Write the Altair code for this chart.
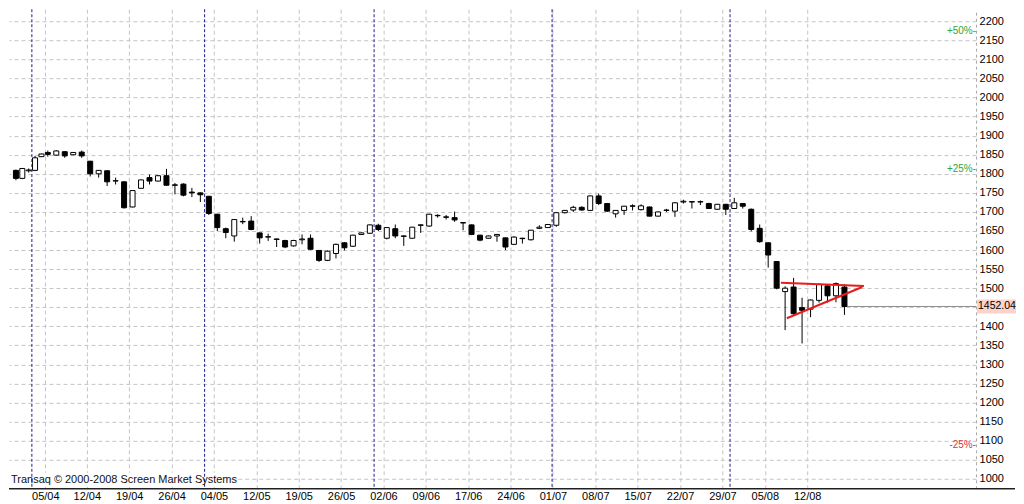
import altair as alt
import pandas as pd

# ---- candle data (trading-day index 0..99) ----
opens = [1809, 1788, 1808, 1809, 1845, 1856, 1849, 1858, 1850, 1857,
         1833, 1800, 1808, 1781, 1779, 1713, 1762, 1790, 1781, 1795,
         1771, 1773, 1752, 1750, 1741, 1694, 1656, 1637, 1674, 1676,
         1645, 1634, 1629, 1625, 1611, 1627, 1631, 1599, 1573, 1591,
         1619, 1610, 1641, 1644, 1665, 1631, 1656, 1637, 1631, 1666,
         1663, 1690, 1687, 1685, 1672, 1666, 1639, 1631, 1637, 1632,
         1615, 1631, 1627, 1657, 1659, 1665, 1698, 1705, 1712, 1704,
         1742, 1722, 1695, 1704, 1716, 1706, 1713, 1689, 1704, 1702,
         1726, 1727, 1726, 1722, 1707, 1720, 1709, 1722, 1707, 1657,
         1619, 1570, 1491, 1503, 1449, 1445, 1468, 1506, 1480, 1503]
highs = [1811, 1815, 1814, 1847, 1853, 1861, 1862, 1859, 1857, 1861,
         1834, 1810, 1809, 1790, 1780, 1757, 1785, 1798, 1796, 1813,
         1776, 1775, 1763, 1751, 1742, 1695, 1659, 1681, 1685, 1689,
         1646, 1643, 1630, 1627, 1627, 1641, 1641, 1600, 1599, 1617,
         1621, 1640, 1646, 1667, 1669, 1660, 1667, 1638, 1661, 1667,
         1695, 1694, 1692, 1701, 1673, 1667, 1640, 1638, 1642, 1633,
         1636, 1632, 1653, 1665, 1668, 1700, 1705, 1716, 1715, 1743,
         1748, 1723, 1705, 1716, 1720, 1720, 1714, 1701, 1708, 1726,
         1732, 1728, 1730, 1724, 1721, 1721, 1737, 1723, 1709, 1667,
         1620, 1571, 1505, 1527, 1475, 1470, 1512, 1510, 1515, 1510]
lows = [1783, 1786, 1803, 1807, 1844, 1845, 1848, 1842, 1849, 1842,
        1793, 1790, 1768, 1772, 1709, 1712, 1761, 1772, 1780, 1769,
        1746, 1741, 1739, 1726, 1692, 1650, 1631, 1622, 1668, 1652,
        1617, 1624, 1608, 1605, 1609, 1615, 1601, 1569, 1571, 1578,
        1599, 1608, 1640, 1643, 1650, 1628, 1631, 1611, 1630, 1645,
        1661, 1685, 1680, 1674, 1652, 1639, 1623, 1630, 1622, 1600,
        1613, 1617, 1625, 1655, 1658, 1661, 1696, 1700, 1703, 1703,
        1718, 1700, 1685, 1692, 1704, 1704, 1688, 1688, 1700, 1687,
        1722, 1709, 1718, 1708, 1706, 1692, 1708, 1709, 1649, 1619,
        1554, 1497, 1390, 1430, 1355, 1424, 1462, 1462, 1463, 1430]
closes = [1788, 1814, 1810, 1842, 1852, 1851, 1860, 1847, 1856, 1847,
          1800, 1809, 1779, 1782, 1711, 1756, 1784, 1781, 1795, 1770,
          1770, 1744, 1750, 1745, 1696, 1659, 1646, 1680, 1675, 1654,
          1632, 1635, 1628, 1608, 1625, 1629, 1602, 1573, 1597, 1615,
          1606, 1639, 1645, 1666, 1654, 1659, 1637, 1636, 1660, 1665,
          1694, 1691, 1686, 1679, 1671, 1641, 1626, 1637, 1641, 1608,
          1634, 1630, 1652, 1660, 1667, 1698, 1704, 1712, 1705, 1742,
          1722, 1702, 1704, 1715, 1715, 1716, 1689, 1700, 1705, 1724,
          1728, 1726, 1727, 1709, 1720, 1707, 1724, 1715, 1654, 1622,
          1587, 1500, 1500, 1433, 1442, 1469, 1510, 1480, 1512, 1452.04]

# ---- axis / annotation data ----
week_labels = ['05/04', '12/04', '19/04', '26/04', '04/05', '12/05', '19/05',
               '26/05', '02/06', '09/06', '17/06', '24/06', '01/07', '08/07',
               '15/07', '22/07', '29/07', '05/08', '12/08']
week_label_idx = [5, 10, 15, 20, 25, 30, 35, 40, 45, 50, 55, 60, 65, 70, 75,
                  80, 85, 90, 95]
month_start_idx = [3, 24, 44, 65, 86]
y_ticks = list(range(1000, 2201, 50))
pct_levels = [2175, 1812.5, 1087.5]
pct_texts = ['+50%-', '+25%-', '-25%-']
pct_colors = ['#35a335', '#35a335', '#d83434']
last_price = 1452.04
last_label = '1452.04'
hidden_tick = 1450
trend_x1 = [91.5, 92.2]
trend_y1 = [1514, 1421]
trend_x2 = [101.3, 101.1]
trend_y2 = [1506, 1503]
copyright_text = 'Transaq \u00a9 2000-2008 Screen Market Systems'

FONT = 'Liberation Sans'
W, H = 968, 480

candles = pd.DataFrame({
    'idx': list(range(len(opens))),
    'open': opens, 'high': highs, 'low': lows, 'close': closes,
})
candles['dir'] = ['down' if c < o else 'up' for o, c in zip(opens, closes)]

xscale = alt.Scale(domain=[-0.49, 5, 113.93], range=[0, 38.85, W], nice=False, zero=False)
yscale = alt.Scale(domain=[973.8, 2231.7], nice=False, zero=False)

grid_vals = [i - 0.4 for i in week_label_idx]
label_expr = "[" + ",".join("'%s'" % s for s in week_labels) + "][round((datum.value + 0.4) / 5) - 1]"
y_label_expr = "datum.value == %d ? '' : format(datum.value, 'd')" % hidden_tick

x_axis = alt.Axis(values=grid_vals, labelExpr=label_expr, grid=True, gridDash=[4, 3],
                  gridColor='#c4c4c4', ticks=False, domain=False, labelPadding=2,
                  labelFont=FONT, labelFontSize=11, labelColor='black', title=None,
                  labelFlush=False, labelOverlap=False)
y_axis = alt.Axis(orient='right', values=y_ticks, labelExpr=y_label_expr, grid=True,
                  gridDash=[4, 3], gridColor='#c4c4c4', ticks=False, domain=True,
                  domainDash=[3, 3], domainColor='#a8a8a8', labelPadding=3, labelFont=FONT,
                  labelFontSize=11, labelColor='black', title=None, labelOverlap=False)


def X(field):
    return alt.X(field, type='quantitative', scale=xscale, axis=x_axis)


def Y(field):
    return alt.Y(field, type='quantitative', scale=yscale, axis=y_axis)


base = alt.Chart(candles)

wicks = base.mark_rule(color='black', strokeWidth=1).encode(
    x=X('idx'), y=Y('low'), y2='high:Q')

bodies = base.mark_bar(size=5, stroke='black', strokeWidth=1).encode(
    x=X('idx'), y=Y('open'), y2='close:Q',
    fill=alt.Fill('dir:N', scale=alt.Scale(domain=['up', 'down'], range=['white', 'black']), legend=None),
)

months = alt.Chart(pd.DataFrame({'m': [i - 0.5 for i in month_start_idx]})).mark_rule(
    color='#1c1c8c', strokeDash=[3, 2], strokeWidth=1).encode(x=X('m'))

copy_bg = alt.Chart(pd.DataFrame({'t': [copyright_text]})).mark_rect(color='white').encode(
    x=alt.value(0), x2=alt.value(219), y=alt.value(464), y2=alt.value(478))
copy_txt = alt.Chart(pd.DataFrame({'t': [copyright_text]})).mark_text(
    align='left', baseline='middle', font=FONT, fontSize=11, color='#111111').encode(
    x=alt.value(2), y=alt.value(471), text='t:N')

last_df = pd.DataFrame({'idx': [len(closes) - 1], 'p': [last_price], 'lbl': [last_label]})
price_line = alt.Chart(last_df).mark_rule(color='#8c8c8c', strokeWidth=1).encode(
    x=X('idx'), x2=alt.value(W), y=Y('p'))
price_box = alt.Chart(last_df).mark_rect(color='#fbd3c9', yOffset=-7, y2Offset=7).encode(
    x=alt.value(W + 1), x2=alt.value(W + 40), y=Y('p'), y2='p:Q')
price_txt = alt.Chart(last_df).mark_text(
    align='left', baseline='middle', font=FONT, fontSize=10.5, color='black').encode(
    x=alt.value(W + 2), y=Y('p'), text='lbl:N')

trend_df = pd.DataFrame({'x1': trend_x1, 'y1': trend_y1, 'x2': trend_x2, 'y2': trend_y2})
trend = alt.Chart(trend_df).mark_rule(color='#e81c1c', strokeWidth=2).encode(
    x=X('x1'), x2='x2:Q', y=Y('y1'), y2='y2:Q')

pct_df = pd.DataFrame({'lvl': pct_levels, 'txt': pct_texts, 'col': pct_colors})
pct = alt.Chart(pct_df).mark_text(
    align='right', baseline='middle', font=FONT, fontSize=10).encode(
    x=alt.value(W), y=Y('lvl'), text='txt:N',
    color=alt.Color('col:N', scale=None))

bottom_line = alt.Chart(pd.DataFrame({'a': [0]})).mark_rule(color='#202020', strokeWidth=1.5).encode(
    x=alt.value(0), x2=alt.value(1007), y=alt.value(H))

chart = alt.layer(
    wicks, copy_bg, months, price_line, bodies, trend, pct, copy_txt,
    price_box, price_txt, bottom_line
).properties(width=W, height=H, padding=0).configure_view(stroke=None)

chart.save("out.html", embed_options={"renderer": "svg", "actions": False})
